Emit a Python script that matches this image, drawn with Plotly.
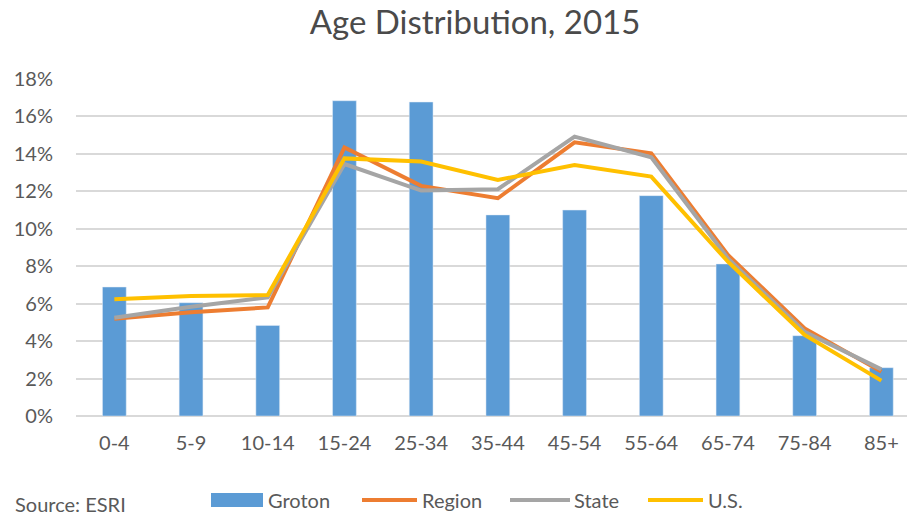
import plotly.graph_objects as go

categories = ["0-4", "5-9", "10-14", "15-24", "25-34", "35-44", "45-54", "55-64", "65-74", "75-84", "85+"]
groton = [0.0689, 0.0605, 0.0484, 0.1684, 0.1677, 0.1074, 0.1100, 0.1177, 0.0812, 0.0429, 0.0258]
region = [0.0520, 0.0554, 0.0580, 0.1435, 0.1229, 0.1163, 0.1462, 0.1403, 0.0860, 0.0468, 0.0237]
state = [0.0525, 0.0584, 0.0634, 0.1346, 0.1204, 0.1211, 0.1492, 0.1382, 0.0842, 0.0450, 0.0249]
us = [0.0623, 0.0641, 0.0646, 0.1376, 0.1359, 0.1261, 0.1341, 0.1279, 0.0824, 0.0433, 0.0189]
y_ticks = [0, 0.02, 0.04, 0.06, 0.08, 0.10, 0.12, 0.14, 0.16, 0.18]
series_names = ["Groton", "Region", "State", "U.S."]
colors = ["#5B9BD5", "#ED7D31", "#A5A5A5", "#FFC000"]

FONT = "Lato, Open Sans, sans-serif"
GRAY = "#595959"
W, H = 909, 517
ML, MR, MT, MB = 76, 2, 79, 101
PW, PH = W - ML - MR, H - MT - MB


def px(x):
    return (x - ML) / PW


def py(y):
    return (H - MB - y) / PH


fig = go.Figure()
fig.add_trace(go.Bar(x=categories, y=groton, name=series_names[0], marker_color=colors[0], width=0.31))
for name, vals, col in zip(series_names[1:], [region, state, us], colors[1:]):
    fig.add_trace(go.Scatter(x=categories, y=vals, name=name, mode="lines",
                             line=dict(color=col, width=4)))

# manual legend (layout only)
shapes = []
annotations = []
leg_y = 500
shapes.append(dict(type="rect", xref="paper", yref="paper", x0=px(211), x1=px(263),
                   y0=py(507), y1=py(493), fillcolor=colors[0], line=dict(width=0), layer="above"))
annotations.append(dict(text=series_names[0], xref="paper", yref="paper", x=px(266), y=py(leg_y),
                        xanchor="left", yanchor="middle", showarrow=False))
line_items = [(362, 417, 420), (510, 570, 572), (648, 703, 706)]
for (x0, x1, tx), name, col in zip(line_items, series_names[1:], colors[1:]):
    shapes.append(dict(type="line", xref="paper", yref="paper", x0=px(x0), x1=px(x1),
                       y0=py(leg_y), y1=py(leg_y), line=dict(color=col, width=4), layer="above"))
    annotations.append(dict(text=name, xref="paper", yref="paper", x=px(tx), y=py(leg_y),
                            xanchor="left", yanchor="middle", showarrow=False))
annotations.append(dict(text="Source: ESRI", xref="paper", yref="paper", x=px(13), y=py(504),
                        xanchor="left", yanchor="middle", showarrow=False))

fig.update_layout(
    width=W, height=H,
    margin=dict(l=ML, r=MR, t=MT, b=MB, autoexpand=False),
    paper_bgcolor="white", plot_bgcolor="white",
    font=dict(family=FONT, color=GRAY, size=20),
    title=dict(text="Age Distribution, 2015", x=475 / W, xanchor="center", y=1 - 22 / H, yanchor="middle",
               font=dict(family=FONT, size=33, color="#4a4a4a")),
    showlegend=False,
    xaxis=dict(type="category", range=[-0.5, -0.5 + PW / 76.7], showgrid=False, showline=False,
               ticks="", tickfont=dict(size=20, color=GRAY), ticklabelstandoff=13, automargin=False),
    yaxis=dict(range=[0, 0.18], tickvals=y_ticks, tickformat=".0%", showgrid=True,
               gridcolor="#D9D9D9", gridwidth=1.5, zeroline=True, zerolinecolor="#D9D9D9",
               zerolinewidth=1.5, showline=False, ticks="", tickfont=dict(size=20, color=GRAY),
               ticklabelstandoff=22, automargin=False),
    shapes=shapes,
    annotations=annotations,
)

fig.write_html("out.html", config={"displayModeBar": False},
               post_script="document.body.style.margin='0';document.body.style.overflow='hidden';")
